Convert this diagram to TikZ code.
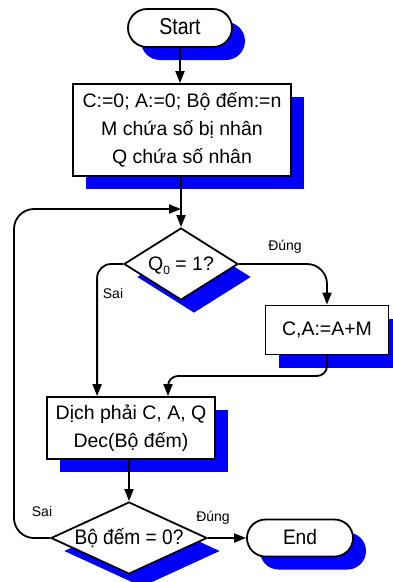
\documentclass[tikz,border=0pt]{standalone}
\usepackage{fontspec}
\setmainfont{Liberation Sans}
\usetikzlibrary{shapes.geometric,shapes.misc,shadows,arrows.meta}
\newcommand{\zbox}[1]{\raisebox{-6.5pt}[0pt][0pt]{\makebox[0pt]{#1}}}
\begin{document}
\begin{tikzpicture}[x=1pt,y=-1pt,
 base/.style={draw, line width=1.8pt, fill=white, text=black, font=\fontsize{19.5}{28}\selectfont, inner sep=0pt, align=center, drop shadow={shadow xshift=13pt, shadow yshift=-13pt, fill=blue, opacity=1}},
 term/.style={base, rounded rectangle, minimum height=38pt},
 proc/.style={base, rectangle},
 dec/.style={base, diamond},
 conn/.style={line width=1.8pt, -{Triangle[length=12pt,width=9pt]}},
 lbl/.style={font=\fontsize{14}{16}\selectfont}]
\useasboundingbox (0,0) rectangle (393,582);
\node[term, minimum width=104pt] (start) at (180,28) {\zbox{\scalebox{0.85}[1]{\fontsize{23}{23}\selectfont Start}}};
\node[proc, minimum width=218pt, minimum height=92pt] (init) at (182,130) {C:=0; A:=0; Bộ đếm:=n\\M chứa số bị nhân\\Q chứa số nhân};
\node[dec, minimum width=114pt, minimum height=72pt] (q0) at (181,264) {\zbox{Q\raisebox{-0.35ex}{\fontsize{12}{12}\selectfont 0} = 1?}};
\node[proc, minimum width=123pt, minimum height=49pt] (add) at (327,330) {C,A:=A+M};
\node[proc, minimum width=168pt, minimum height=62pt] (shift) at (131,428) {Dịch phải C, A, Q\\Dec(Bộ đếm)};
\node[dec, minimum width=156pt, minimum height=72pt] (cnt) at (129,538) {\zbox{\scalebox{0.91}[1]{\fontsize{21}{21}\selectfont Bộ đếm = 0?}}};
\node[term, minimum width=106pt, minimum height=37pt] (end) at (300,538) {\zbox{\scalebox{0.91}[1]{\fontsize{21}{21}\selectfont End}}};
\draw[conn] (start.south) -- (start.south |- init.north);
\draw[conn] (init.south -| q0.north) -- (q0.north);
\draw[conn, rounded corners=20pt] (q0.east) -| (add.north);
\draw[conn, rounded corners=14pt] (q0.west) -| ([xshift=51pt]shift.north west);
\coordinate (m1) at (168,376);
\draw[conn, rounded corners=10pt] (add.south) |- (m1) -- (m1 |- shift.north);
\draw[conn] (shift.south -| cnt.north) -- (cnt.north);
\draw[conn] (cnt.east) -- (end.west);
\coordinate (lp) at (14,209);
\draw[conn, rounded corners=20pt] (cnt.west) -| (lp) -- (q0.north |- lp);
\node[lbl] (l1) at (285,247) {Đúng};
\node[lbl] (l2) at (113,293) {Sai};
\node[lbl] (l3) at (42,511) {Sai};
\node[lbl] (l4) at (213,518) {Đúng};
\end{tikzpicture}
\end{document}
